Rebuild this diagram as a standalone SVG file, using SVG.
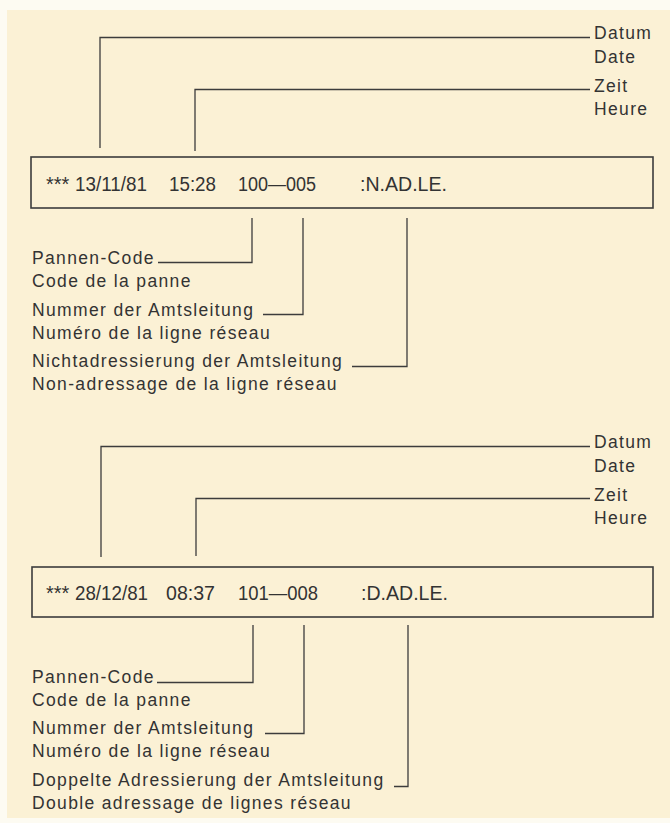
<svg xmlns="http://www.w3.org/2000/svg" width="670" height="823" viewBox="0 0 670 823">
<style>
.lbl{font-family:"Liberation Sans",Arial,sans-serif;font-size:17.5px;letter-spacing:1.35px;fill:#333}
.rec{font-family:"Liberation Sans",Arial,sans-serif;font-size:20px;fill:#333}
.ln{fill:none;stroke:#3c3c3c;stroke-width:1.3}
.box{fill:none;stroke:#3c3c3c;stroke-width:1.6}
</style>
<rect x="0" y="0" width="670" height="823" fill="#fdfbf2"/>
<rect x="7" y="10" width="663" height="808" fill="#fbf1d5"/>

<g id="record1">
<rect class="box" x="31" y="157" width="622" height="51"/>
<text class="rec" x="46" y="191">***</text>
<text class="rec" x="75" y="191" textLength="72" lengthAdjust="spacingAndGlyphs">13/11/81</text>
<text class="rec" x="169" y="191" textLength="47" lengthAdjust="spacingAndGlyphs">15:28</text>
<text class="rec" x="238" y="191" textLength="78" lengthAdjust="spacingAndGlyphs">100—005</text>
<text class="rec" x="360" y="191" textLength="87" lengthAdjust="spacingAndGlyphs">:N.AD.LE.</text>
</g>
<g id="datum1"><text class="lbl" x="594" y="39">Datum</text><text class="lbl" x="594" y="63">Date</text></g>
<g id="zeit1"><text class="lbl" x="594" y="92">Zeit</text><text class="lbl" x="594" y="115">Heure</text></g>
<g id="code1"><text class="lbl" x="32" y="264">Pannen-Code</text><text class="lbl" x="32" y="287">Code de la panne</text></g>
<g id="nummer1"><text class="lbl" x="32" y="316">Nummer der Amtsleitung</text><text class="lbl" x="32" y="339">Numéro de la ligne réseau</text></g>
<g id="nicht1"><text class="lbl" x="32" y="367">Nichtadressierung der Amtsleitung</text><text class="lbl" x="32" y="390">Non-adressage de la ligne réseau</text></g>

<g id="record2">
<rect class="box" x="32" y="567" width="621" height="50"/>
<text class="rec" x="46" y="600">***</text>
<text class="rec" x="75" y="600" textLength="73" lengthAdjust="spacingAndGlyphs">28/12/81</text>
<text class="rec" x="166" y="600" textLength="49" lengthAdjust="spacingAndGlyphs">08:37</text>
<text class="rec" x="238" y="600" textLength="80" lengthAdjust="spacingAndGlyphs">101—008</text>
<text class="rec" x="361" y="600" textLength="87" lengthAdjust="spacingAndGlyphs">:D.AD.LE.</text>
</g>
<g id="datum2"><text class="lbl" x="594" y="448">Datum</text><text class="lbl" x="594" y="472">Date</text></g>
<g id="zeit2"><text class="lbl" x="594" y="501">Zeit</text><text class="lbl" x="594" y="524">Heure</text></g>
<g id="code2"><text class="lbl" x="32" y="683">Pannen-Code</text><text class="lbl" x="32" y="706">Code de la panne</text></g>
<g id="nummer2"><text class="lbl" x="32" y="734">Nummer der Amtsleitung</text><text class="lbl" x="32" y="757">Numéro de la ligne réseau</text></g>
<g id="doppelt2"><text class="lbl" x="32" y="786">Doppelte Adressierung der Amtsleitung</text><text class="lbl" x="32" y="809">Double adressage de lignes réseau</text></g>

<g id="connectors">
<path class="ln" d="M100 148V37.5H590"/>
<path class="ln" d="M195 151V89.5H590"/>
<path class="ln" d="M252 218V262.5H158"/>
<path class="ln" d="M303 218V314.5H263"/>
<path class="ln" d="M407 218V366.5H352"/>
<path class="ln" d="M101 557V446.5H590"/>
<path class="ln" d="M196 556V498.5H590"/>
<path class="ln" d="M253 625V682.5H157"/>
<path class="ln" d="M304 625V733.5H265"/>
<path class="ln" d="M408 625V786.5H394"/>
</g>
</svg>
